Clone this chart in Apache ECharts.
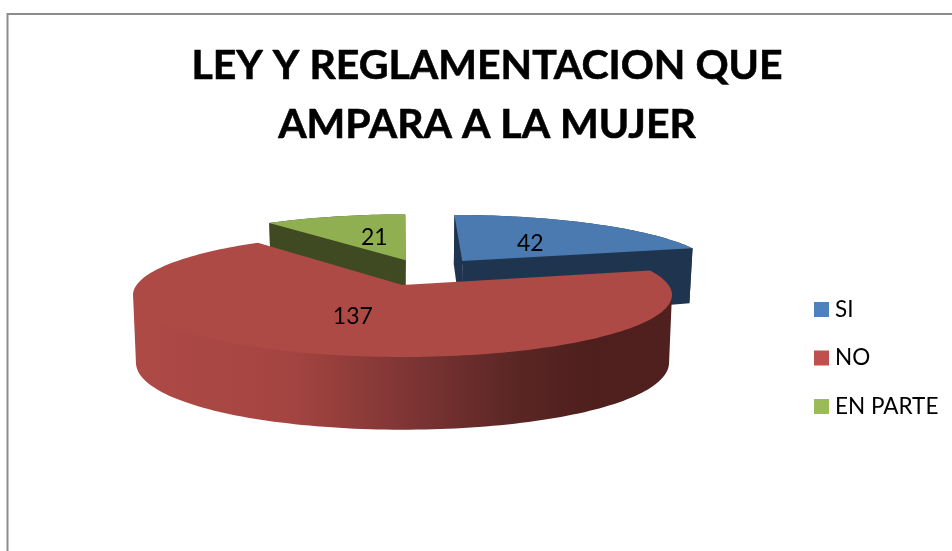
<!DOCTYPE html>
<html>
<head>
<meta charset="utf-8">
<style>html,body{margin:0;padding:0;background:#fff}#c{width:952px;height:551px}</style>
<script src="https://cdn.jsdelivr.net/npm/echarts@6/dist/echarts.min.js"></script>
</head>
<body>
<div id="c"></div>
<script>
const titleText = 'LEY Y REGLAMENTACION QUE\nAMPARA A LA MUJER';
const categories = ['SI', 'NO', 'EN PARTE'];
const values = [42, 137, 21];
const legendColors = ['#4F81BD', '#C0504D', '#9BBB59'];
const topColors = ['#4A7AB0', '#AE4A46', '#8FAF50'];
const wallColors = ['#1F344F', '#4F201E', '#3F4A22'];
const explode = [[0.24, 0.4245], [0, 0], [0.013, 0.44]];   // slice offset in the pie's plane
const labelNudge = [[2, 2], [-5, 2], [5, 0]];
const zOf = [2, 3, 1];

const view = { x: 402.5, y: 285, kx: 266, ky: 60.4, p: 0.161, h: 61, conv: 0.011 };
const total = values.reduce((a, b) => a + b, 0);

function project(X, Y) {
  const d = 1 + view.p * Y;
  return { x: view.x + view.kx * X / d, y: view.y - view.ky * Y / d, d };
}
function topPt(X, Y) { const q = project(X, Y); return [q.x, q.y]; }
function bottomPt(X, Y) {
  const q = project(X, Y);
  // walls read a little taller towards the sides than a pure 1/d law gives
  return [view.x + (q.x - view.x) * (1 - view.conv), q.y + view.h / q.d + 5 * (1 - Y * Y) * (Y < 0.6 ? 1 : 0)];
}
function sliceAngles(i) {
  let s = 0;
  for (let k = 0; k < i; k++) s += values[k];
  return [s / total * Math.PI * 2, (s + values[i]) / total * Math.PI * 2];
}
const redGradient = {
  type: 'linear', global: true, x: 131, y: 0, x2: 671, y2: 0,
  colorStops: [
    { offset: 0, color: '#AE4A46' }, { offset: 0.3, color: '#A44441' },
    { offset: 0.5, color: '#803635' }, { offset: 0.7, color: '#5C2725' },
    { offset: 0.85, color: '#4E1F1D' }, { offset: 1, color: '#4F201E' }
  ]
};
function renderSlice(i) {
  return function () {
    const [a0, a1] = sliceAngles(i);
    const [ex, ey] = explode[i];
    const rim = [];
    const n = Math.max(8, Math.round((a1 - a0) * 40));
    for (let k = 0; k <= n; k++) {
      const a = a0 + (a1 - a0) * k / n;
      rim.push([ex + Math.sin(a), ey + Math.cos(a)]);
    }
    const apex = [ex, ey];
    const children = [];
    const wall = (pts, fill, lift) => children.push({
      type: 'polygon',
      shape: { points: pts.map(p => { const t = topPt(p[0], p[1]); return [t[0], t[1] - lift]; }).concat(pts.slice().reverse().map(p => bottomPt(p[0], p[1]))) },
      style: { fill: fill }
    });
    if (i === 1) {
      // only the run of the rim that faces the viewer, between its two side extremes
      const xs = rim.map(p => topPt(p[0], p[1])[0]);
      const iMax = xs.indexOf(Math.max(...xs));
      const iMin = xs.indexOf(Math.min(...xs));
      wall(rim.slice(iMax, iMin + 1), redGradient, 1.5);
    } else {
      wall(rim, wallColors[i], 0);
      wall([apex, rim[0]], wallColors[i], 0);
      wall([apex, rim[n]], wallColors[i], 0);
    }
    children.push({
      type: 'polygon',
      shape: { points: [apex].concat(rim).map(p => topPt(p[0], p[1])) },
      style: { fill: topColors[i] }
    });
    const mid = (a0 + a1) / 2;
    const lp = topPt(ex + 0.48 * Math.sin(mid), ey + 0.48 * Math.cos(mid));
    children.push({
      type: 'text',
      style: {
        text: String(values[i]), x: lp[0] + labelNudge[i][0], y: lp[1] + labelNudge[i][1],
        align: 'center', verticalAlign: 'middle',
        fill: '#000', font: '23px Lato, "Open Sans", sans-serif'
      }
    });
    return { type: 'group', children };
  };
}
const option = {
  animation: false,
  backgroundColor: '#fff',
  title: {
    text: titleText, left: 482, top: 31, textAlign: 'center',
    textStyle: { fontFamily: 'Lato, "Open Sans", sans-serif', fontWeight: 'bold', fontSize: 41, lineHeight: 59, color: '#000', textBorderColor: '#000', textBorderWidth: 0.6 }
  },
  legend: {
    orient: 'vertical', left: 809, top: 293, itemWidth: 15, itemHeight: 15, itemGap: 25.5, icon: 'rect',
    data: categories,
    textStyle: { fontFamily: 'Lato, "Open Sans", sans-serif', fontSize: 22.5, lineHeight: 23, color: '#000', padding: [0, 0, 0, 1] },
    selectedMode: false
  },
  graphic: [{
    type: 'polyline', silent: true,
    shape: { points: [[7.5, 551], [7.5, 14], [952, 14]] },
    style: { stroke: '#8C8C8C', lineWidth: 2, fill: null }
  }],
  series: categories.map((name, i) => ({
    type: 'custom', name, coordinateSystem: 'none', z: zOf[i] + 1,
    itemStyle: { color: legendColors[i] },
    renderItem: renderSlice(i),
    data: [[values[i]]],
    silent: true
  }))
};
const chart = echarts.init(document.getElementById('c'), null, { renderer: 'canvas' });
chart.setOption(option);
</script>
</body>
</html>
